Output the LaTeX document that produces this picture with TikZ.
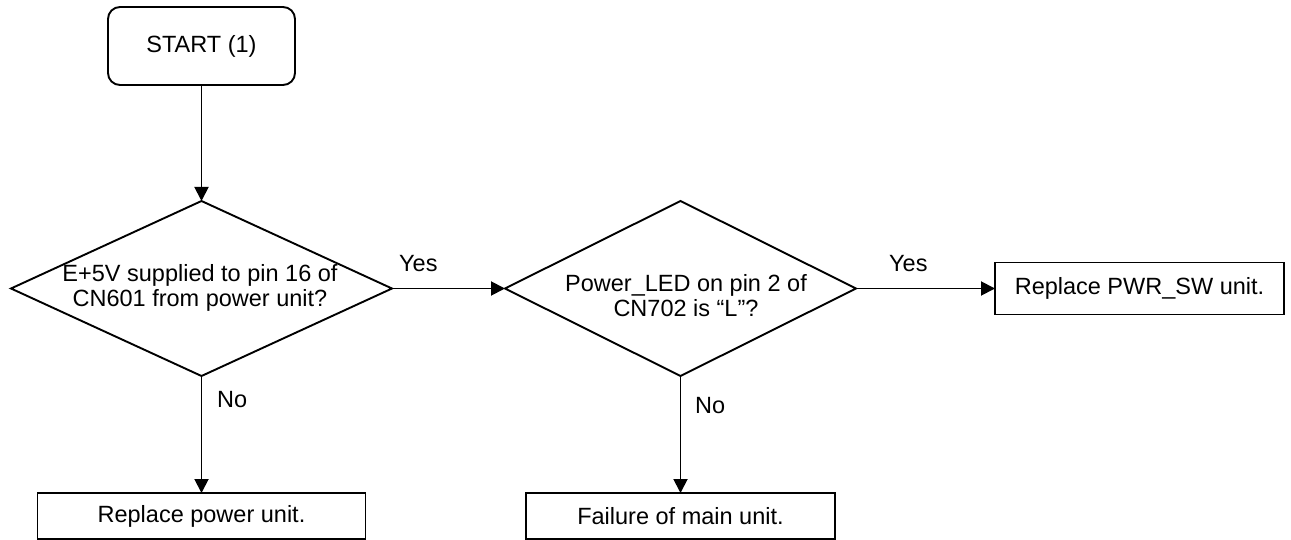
\documentclass[tikz,border=0pt]{standalone}
\usepackage{fontspec}
\setmainfont{Liberation Sans}
\usetikzlibrary{shapes.geometric,arrows.meta}
\begin{document}
\begin{tikzpicture}[x=1pt,y=-1pt,
  every node/.style={font=\fontsize{23.5}{25}\selectfont},
  startbox/.style={draw,line width=1.9pt,rounded corners=12pt,inner sep=0pt,outer sep=0pt},
  actbox/.style={draw,line width=1.9pt,inner sep=0pt,outer sep=0pt},
  decision/.style={draw,diamond,line width=1.9pt,inner sep=0pt,outer sep=0pt},
  dtext/.style={align=center,inner sep=0pt},
  lbl/.style={anchor=base west,inner sep=0pt},
  flow/.style={line width=1.9pt,-{Triangle[length=14pt,width=14pt]}}]
\useasboundingbox (0,0) rectangle (1291,540);
\node[startbox,minimum width=187pt,minimum height=78pt] (start) at (201.5,46) {START (1)};
\node[decision,minimum width=381pt,minimum height=175pt] (d1) at (201.5,288.5) {};
\node[dtext] (t1) at (200,287.5) {E+5V supplied to pin 16 of\\CN601 from power unit?};
\node[decision,minimum width=351pt,minimum height=175pt] (d2) at (680.5,288.5) {};
\node[dtext] (t2) at (686,295.5) {Power\_LED on pin 2 of\\CN702 is “L”?};
\node[actbox,minimum width=289pt,minimum height=52pt] (pwr) at (1139.5,288.5) {Replace PWR\_SW unit.};
\node[actbox,minimum width=328pt,minimum height=46pt] (rpu) at (201.5,516) {Replace power unit.};
\node[actbox,minimum width=309pt,minimum height=46pt] (fmu) at (680.5,516) {Failure of main unit.};
\node[lbl] (y1) at (399,272) {Yes};
\node[lbl] (y2) at (889,272) {Yes};
\node[lbl] (n1) at (217,407) {No};
\node[lbl] (n2) at (695,413) {No};
\draw[flow] (start.south) -- (d1.north);
\draw[flow] (d1.east) -- (d2.west);
\draw[flow] (d2.east) -- (pwr.west);
\draw[flow] (d1.south) -- (rpu.north);
\draw[flow] (d2.south) -- (fmu.north);
\end{tikzpicture}
\end{document}
